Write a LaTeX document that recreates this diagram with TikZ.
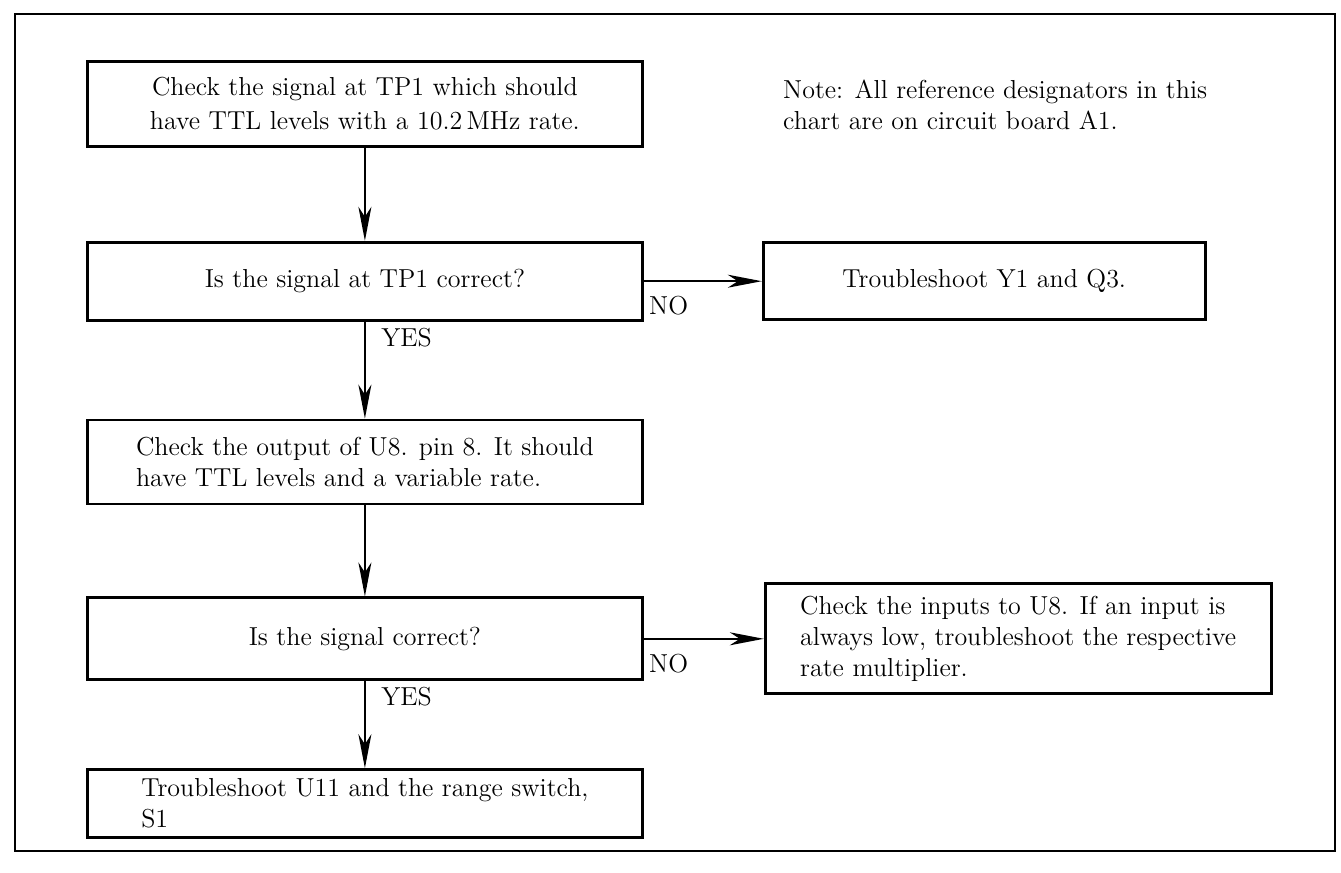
\documentclass[tikz,border=0pt]{standalone}
\usepackage{tikz}
\usetikzlibrary{arrows.meta,positioning}
\newcommand{\chartfont}{\fontsize{13}{15.5}\selectfont}
\tikzset{
  block/.style={draw, line width=1.4pt, minimum width=277.5pt, align=center,
    inner sep=3pt, font=\chartfont},
  sideblock/.style={draw, line width=1.4pt, align=center, inner sep=3pt, font=\chartfont},
  note/.style={align=left, inner sep=0pt, font=\chartfont},
  answer/.style={inner sep=0pt, font=\chartfont},
  flow/.style={-{Stealth[length=17pt, width=6.5pt, inset=5pt]}, line width=0.9pt}
}
\begin{document}
\begin{tikzpicture}
      \useasboundingbox (0,0) rectangle (670.5pt,-436.5pt);
      \draw[line width=1.2pt] (7.5pt,-7pt) rectangle (667.5pt,-425.5pt);
      % main column
      \node[block, minimum height=42.5pt, anchor=north west, font=\fontsize{13}{17}\selectfont]
        (check1) at (43pt,-30pt) {Check the signal at TP1 which should\\have TTL levels with a 10.2\,MHz rate.};
      \node[block, minimum height=39pt, below=46.5pt of check1] (test1) {Is the signal at TP1 correct?};
      \node[block, minimum height=42pt, align=left, below=48.5pt of test1]
        (check2) {Check the output of U8. pin 8. It should\\have TTL levels and a variable rate.};
      \node[block, minimum height=41pt, below=45.5pt of check2] (test2) {Is the signal correct?};
      \node[block, minimum height=34pt, align=left, below=43.5pt of test2]
        (fixU) {Troubleshoot U11 and the range switch,\\S1};
      % side boxes
      \node[sideblock, minimum width=221pt, minimum height=38.5pt, right=59pt of test1]
        (fixY) {Troubleshoot Y1 and Q3.};
      \node[sideblock, minimum width=253pt, minimum height=55pt, align=left, right=60pt of test2]
        (inputs) {Check the inputs to U8. If an input is\\always low, troubleshoot the respective\\rate multiplier.};
      \node[note, anchor=north west] (remark) at ([xshift=69.5pt,yshift=-10pt]check1.north east)
        {Note: All reference designators in this\\chart are on circuit board A1.};
      % yes / no
      \node[answer, below right=7.5pt and 2.5pt of test1.east] (no1) {NO};
      \node[answer, below right=3pt and 8pt of test1.south] (yes1) {YES};
      \node[answer, below right=7.5pt and 2.5pt of test2.east] (no2) {NO};
      \node[answer, below right=3pt and 8pt of test2.south] (yes2) {YES};
      \draw[flow] (check1) -- (test1);
      \draw[flow] (test1) -- (check2);
      \draw[flow] (check2) -- (test2);
      \draw[flow] (test2) -- (fixU);
      \draw[flow] (test1) -- (fixY);
      \draw[flow] (test2) -- (inputs);
    \end{tikzpicture}
\end{document}
